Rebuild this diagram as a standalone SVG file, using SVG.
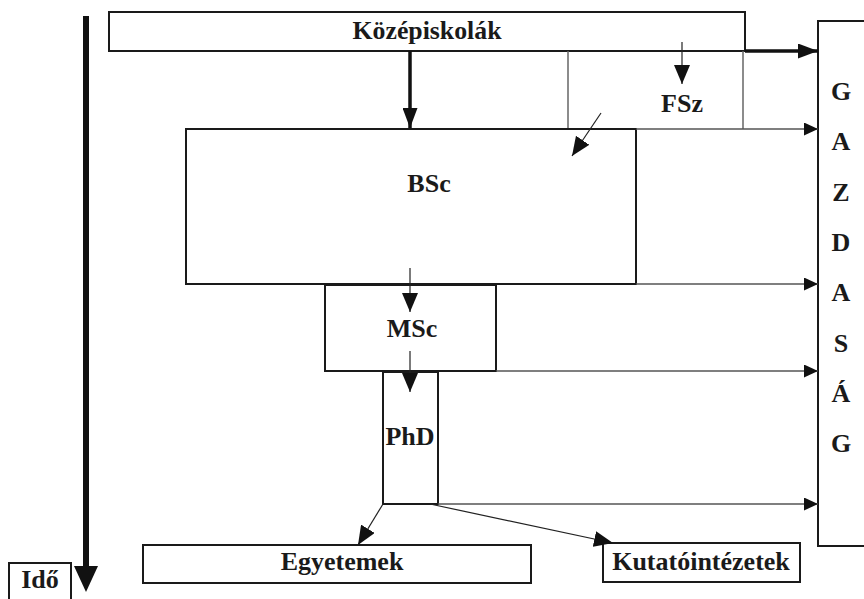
<svg xmlns="http://www.w3.org/2000/svg" width="864" height="599" viewBox="0 0 864 599">
<style>
.box{fill:#fff;stroke:#1a1a1a;stroke-width:2}
.gbox{fill:none;stroke:#666;stroke-width:1.5}
.lbl{font-family:"Liberation Serif","Times New Roman",serif;font-weight:bold;font-size:26px;fill:#1a1a1a;text-anchor:middle}
.thin{stroke:#222;stroke-width:1.2;fill:none}
.gline{stroke:#555;stroke-width:1.5;fill:none}
.thick{stroke:#111;stroke-width:3.5;fill:none}
</style>
<defs>
<marker id="big" markerUnits="userSpaceOnUse" markerWidth="19" markerHeight="16" refX="19" refY="8" orient="auto"><path d="M0,0 L19,8 L0,16 z" fill="#111"/></marker>
<marker id="small" markerUnits="userSpaceOnUse" markerWidth="14" markerHeight="13" refX="14" refY="6.5" orient="auto"><path d="M0,0 L14,6.5 L0,13 z" fill="#111"/></marker>
<marker id="heavy" markerUnits="userSpaceOnUse" markerWidth="20" markerHeight="15" refX="20" refY="7.5" orient="auto"><path d="M0,0 L20,7.5 L0,15 z" fill="#111"/></marker>
</defs>
<rect width="864" height="599" fill="#fff"/>

<g id="time-axis">
<line x1="86" y1="16" x2="86" y2="570" stroke="#111" stroke-width="6"/>
<polygon points="74,566 98,566 86,592" fill="#111"/>
</g>
<g id="node-ido">
<rect class="box" x="9" y="563" width="62" height="42"/>
<text class="lbl" x="40" y="588">Idő</text>
</g>
<g id="node-kozepiskolak">
<rect class="box" x="109" y="12" width="636" height="39"/>
<text class="lbl" x="427" y="39" textLength="149" lengthAdjust="spacingAndGlyphs">Középiskolák</text>
</g>
<g id="node-fsz">
<line class="gbox" x1="568" y1="51" x2="568" y2="129"/>
<line class="gbox" x1="743" y1="51" x2="743" y2="129"/>
<line x1="568" y1="129" x2="636" y2="129" stroke="#1a1a1a" stroke-width="2"/>
<text class="lbl" x="682" y="112">FSz</text>
</g>
<g id="node-bsc">
<rect class="box" x="186" y="129" width="450" height="155"/>
<text class="lbl" x="429" y="192">BSc</text>
</g>
<g id="node-msc">
<rect class="box" x="325" y="285" width="171" height="86"/>
<text class="lbl" x="412" y="337">MSc</text>
</g>
<g id="node-phd">
<rect class="box" x="383" y="372" width="55" height="132"/>
<text class="lbl" x="410" y="445">PhD</text>
</g>
<g id="node-egyetemek">
<rect class="box" x="143" y="545" width="388" height="38"/>
<text class="lbl" x="342" y="570">Egyetemek</text>
</g>
<g id="node-kutatointezetek">
<rect class="box" x="603" y="543" width="197" height="39"/>
<text class="lbl" x="701" y="570">Kutatóintézetek</text>
</g>
<g id="node-gazdasag">
<rect class="box" x="818" y="21" width="60" height="525"/>
<text class="lbl" x="841" y="100">G</text>
<text class="lbl" x="841" y="150">A</text>
<text class="lbl" x="841" y="201">Z</text>
<text class="lbl" x="841" y="251">D</text>
<text class="lbl" x="841" y="301">A</text>
<text class="lbl" x="841" y="352">S</text>
<text class="lbl" x="841" y="402">Á</text>
<text class="lbl" x="841" y="452">G</text>
</g>

<g id="connectors">
<line class="thick" x1="410" y1="51" x2="410" y2="128" marker-end="url(#heavy)"/>
<line class="thick" x1="745" y1="51" x2="818" y2="51" marker-end="url(#heavy)"/>
<line class="thin" x1="682" y1="42" x2="682" y2="84" marker-end="url(#big)"/>
<line class="thin" x1="601" y1="113" x2="572" y2="156" marker-end="url(#big)"/>
<line class="thin" x1="410" y1="268" x2="410" y2="312" marker-end="url(#big)"/>
<line class="thin" x1="410" y1="351" x2="410" y2="392" marker-end="url(#big)"/>
<line class="gline" x1="636" y1="129" x2="818" y2="129" marker-end="url(#small)"/>
<line class="gline" x1="636" y1="284" x2="818" y2="284" marker-end="url(#small)"/>
<line class="gline" x1="496" y1="371" x2="818" y2="371" marker-end="url(#small)"/>
<line class="gline" x1="438" y1="504" x2="818" y2="504" marker-end="url(#small)"/>
<line class="thin" x1="383" y1="504" x2="358" y2="545" marker-end="url(#big)"/>
<line class="thin" x1="430" y1="504" x2="613" y2="543" marker-end="url(#big)"/>
</g>
</svg>
